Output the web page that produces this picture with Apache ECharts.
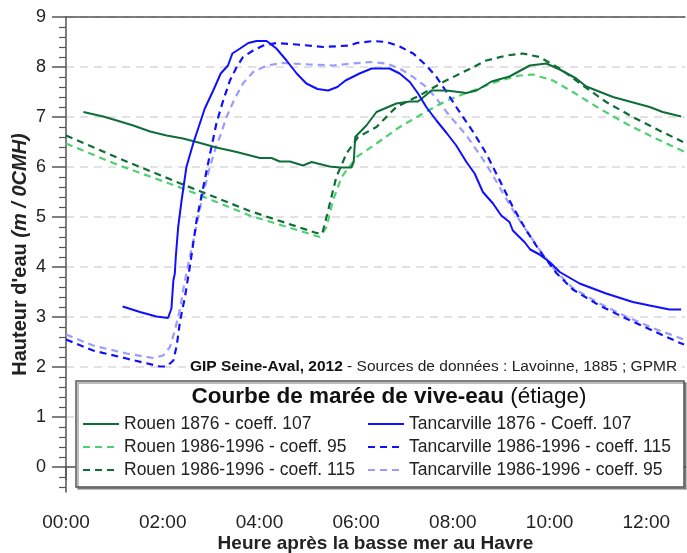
<!DOCTYPE html>
<html>
<head>
<meta charset="utf-8">
<script src="https://cdn.jsdelivr.net/npm/echarts@6/dist/echarts.min.js"></script>
<style>
html,body{margin:0;padding:0;background:#fff;}
#chart{width:687px;height:553px;}
</style>
</head>
<body>
<div id="chart"></div>
<script>
// ---- data: [hours after low tide at Le Havre, water height m / 0CMH] ----
const seriesNames = [
  'Rouen 1876 - coeff. 107',
  'Rouen 1986-1996 - coeff. 95',
  'Rouen 1986-1996 - coeff. 115',
  'Tancarville 1876 - Coeff. 107',
  'Tancarville 1986-1996 - coeff. 115',
  'Tancarville 1986-1996 - coeff. 95'
];
const rouen1876 = [[0.36,7.10],[0.77,7.01],[1.12,6.91],[1.39,6.83],[1.74,6.71],[2.08,6.63],[2.42,6.57],[2.70,6.50],[3.11,6.39],[3.53,6.30],[4.01,6.18],[4.25,6.18],[4.42,6.11],[4.63,6.11],[4.90,6.03],[5.08,6.10],[5.45,6.01],[5.66,5.99],[5.90,5.99],[5.95,6.10],[5.98,6.60],[6.21,6.83],[6.42,7.10],[6.83,7.27],[7.11,7.31],[7.28,7.31],[7.56,7.53],[7.87,7.53],[8.28,7.48],[8.49,7.53],[8.80,7.71],[9.17,7.81],[9.59,8.03],[9.93,8.07],[10.21,7.95],[10.55,7.77],[10.76,7.61],[11.31,7.40],[12.07,7.20],[12.34,7.10],[12.72,7.01]];
const rouen95 = [[0,6.47],[1.05,6.05],[2.42,5.57],[3.80,5.03],[5.25,4.60],[5.39,4.80],[5.52,5.33],[5.70,5.80],[6.01,6.20],[6.42,6.47],[6.90,6.80],[7.38,7.07],[7.87,7.33],[8.42,7.53],[8.97,7.73],[9.38,7.83],[9.66,7.85],[10.07,7.73],[10.48,7.50],[11.03,7.17],[11.58,6.87],[12.13,6.60],[12.80,6.30]];
const rouen115 = [[0,6.63],[1.05,6.19],[2.42,5.65],[3.80,5.12],[5.18,4.68],[5.30,4.67],[5.40,5.05],[5.59,5.80],[5.80,6.27],[6.04,6.60],[6.42,6.80],[6.83,7.20],[7.31,7.43],[7.80,7.70],[8.28,7.93],[8.69,8.13],[9.11,8.23],[9.45,8.27],[9.79,8.20],[10.21,7.97],[10.69,7.63],[11.17,7.30],[11.72,7.00],[12.27,6.73],[12.76,6.50]];
const tanc1876 = [[1.17,3.21],[1.53,3.10],[1.87,3.01],[2.11,2.98],[2.18,3.17],[2.22,3.73],[2.25,3.87],[2.27,4.20],[2.32,4.80],[2.39,5.33],[2.42,5.53],[2.49,6.00],[2.63,6.47],[2.87,7.17],[3.04,7.52],[3.20,7.87],[3.35,8.03],[3.44,8.27],[3.60,8.37],[3.77,8.48],[3.94,8.52],[4.15,8.52],[4.35,8.37],[4.56,8.13],[4.77,7.87],[4.97,7.67],[5.20,7.56],[5.42,7.53],[5.61,7.60],[5.78,7.73],[6.07,7.87],[6.32,7.97],[6.69,7.97],[6.90,7.87],[7.11,7.70],[7.28,7.47],[7.45,7.20],[7.66,6.93],[7.87,6.68],[8.07,6.43],[8.28,6.10],[8.45,5.87],[8.62,5.50],[8.83,5.27],[9.00,5.03],[9.17,4.90],[9.24,4.73],[9.48,4.50],[9.60,4.35],[9.79,4.25],[10.00,4.10],[10.21,3.90],[10.62,3.67],[11.17,3.47],[11.72,3.30],[12.07,3.23],[12.48,3.15],[12.72,3.15]];
const tanc115 = [[0,2.55],[0.56,2.33],[1.25,2.17],[1.94,2.01],[2.08,2.01],[2.22,2.13],[2.29,2.43],[2.36,2.93],[2.46,3.40],[2.56,4.00],[2.70,4.93],[2.84,5.60],[2.98,6.27],[3.11,6.87],[3.25,7.33],[3.39,7.73],[3.53,8.00],[3.66,8.20],[3.87,8.33],[4.08,8.43],[4.35,8.48],[4.77,8.45],[5.32,8.40],[5.87,8.43],[6.01,8.48],[6.35,8.52],[6.63,8.50],[6.90,8.41],[7.18,8.27],[7.45,8.03],[7.66,7.80],[7.87,7.50],[8.07,7.20],[8.28,6.90],[8.42,6.70],[8.69,6.27],[8.97,5.73],[9.24,5.20],[9.52,4.73],[9.79,4.33],[10.14,3.88],[10.48,3.55],[11.03,3.23],[11.58,2.97],[12.13,2.73],[12.65,2.50],[12.78,2.45]];
const tanc95 = [[0,2.65],[0.56,2.43],[1.25,2.27],[1.80,2.18],[2.01,2.23],[2.15,2.40],[2.25,2.73],[2.36,3.17],[2.42,3.53],[2.53,4.07],[2.65,4.60],[2.80,5.30],[2.96,5.95],[3.10,6.40],[3.18,6.60],[3.32,7.00],[3.49,7.37],[3.66,7.67],[3.87,7.90],[4.15,8.03],[4.49,8.08],[5.04,8.05],[5.52,8.03],[5.94,8.07],[6.28,8.10],[6.63,8.07],[6.90,7.97],[7.18,7.80],[7.45,7.60],[7.66,7.37],[7.87,7.10],[8.07,6.87],[8.28,6.63],[8.59,6.20],[8.80,5.88],[9.05,5.45],[9.30,5.05],[9.52,4.73],[9.79,4.35],[10.14,3.90],[10.48,3.58],[11.03,3.27],[11.58,3.01],[12.13,2.78],[12.78,2.55]];
const xTickHours = [0,2,4,6,8,10,12];
const yTickValues = [0,1,2,3,4,5,6,7,8,9];

// ---- chart ----
const FONT = '"Liberation Sans", Arial, Helvetica, sans-serif';
const DARK_GREEN = '#0f6e38', LIGHT_GREEN = '#4fd072', BLUE = '#1010ff', LIGHT_BLUE = '#9c9cff';
const DASH = [7, 5];
function hh(v){ const h = Math.round(v); return (h < 10 ? '0' : '') + h + ':00'; }

function mkSeries(name, data, color, dashed, z) {
  return {
    name: name, type: 'line', data: data, symbol: 'none', z: z,
    lineStyle: { color: color, width: dashed ? 2.2 : 2, type: dashed ? DASH : 'solid' },
    itemStyle: { color: color }
  };
}

const chart = echarts.init(document.getElementById('chart'), null, {renderer: 'canvas'});
const axisGray = '#555';
const legendCommon = {
  orient: 'vertical', top: 415,
  itemWidth: 36, itemHeight: 18, itemGap: 5, padding: 0,
  itemStyle: { opacity: 0, borderWidth: 0 },
  textStyle: { fontSize: 17.5, color: '#222', fontFamily: FONT }
};
chart.setOption({
  animation: false,
  textStyle: { fontFamily: FONT },
  grid: { left: 66, top: 17, width: 619, height: 475, containLabel: false, outerBoundsMode: 'none' },
  xAxis: [{
    type: 'value', min: 0, max: 12.8, interval: 2,
    axisLine: { lineStyle: { color: axisGray, width: 1.5 } },
    axisTick: { length: 13, customValues: xTickHours, lineStyle: { color: axisGray, width: 1.5 } },
    minorTick: { show: true, splitNumber: 2, length: 7, lineStyle: { color: axisGray, width: 1.5 } },
    splitLine: { show: false },
    axisLabel: { fontSize: 19, color: '#222', margin: 21, customValues: xTickHours,
      formatter: function (v) { return (Math.abs(v - Math.round(v)) < 1e-6) ? hh(v) : ''; } },
    name: 'Heure après la basse mer au Havre', nameLocation: 'middle', nameGap: 42, nameMoveOverlap: false,
    nameTextStyle: { fontSize: 19, fontWeight: 'bold', color: '#222', fontFamily: FONT }
  }, {
    type: 'value', position: 'top', min: 0, max: 12.8, interval: 2,
    axisLine: { show: true, onZero: false, lineStyle: { color: axisGray, width: 1.5 } },
    axisTick: { show: false }, axisLabel: { show: false }, splitLine: { show: false }
  }],
  yAxis: {
    type: 'value', min: -0.5, max: 9, splitNumber: 10,
    axisLine: { show: true, lineStyle: { color: axisGray, width: 1.5 } },
    axisTick: { show: true, length: 14, customValues: yTickValues, lineStyle: { color: axisGray, width: 1.5 } },
    minorTick: { show: true, splitNumber: 5, length: 7, lineStyle: { color: axisGray, width: 1.2 } },
    splitLine: { show: true, lineStyle: { color: '#d9d9d9', width: 1.5, type: [8, 6] } },
    axisLabel: { fontSize: 18, color: '#222', margin: 20, customValues: yTickValues,
      formatter: function (v) { return (v >= 0 && Math.abs(v - Math.round(v)) < 1e-6) ? String(Math.round(v)) : ''; } },
    name: "{b|Hauteur d'eau }{bi|(m / 0CMH)}", nameLocation: 'middle', nameRotate: 90, nameGap: 36, nameMoveOverlap: false,
    nameTextStyle: { rich: {
      b: { fontSize: 20, fontWeight: 'bold', color: '#222', fontFamily: FONT },
      bi: { fontSize: 20, fontWeight: 'bold', fontStyle: 'italic', color: '#222', fontFamily: FONT }
    } }
  },
  legend: [
    Object.assign({ data: seriesNames.slice(0, 3), left: 82 }, legendCommon),
    Object.assign({ data: seriesNames.slice(3), left: 367 }, legendCommon)
  ],
  graphic: [{
    type: 'rect', z: 3,
    shape: { x: 76, y: 381, width: 608, height: 106 },
    style: { fill: '#fff', stroke: '#555', lineWidth: 1.5, shadowColor: 'rgba(0,0,0,0.35)', shadowOffsetX: 2, shadowOffsetY: 2, shadowBlur: 0 }
  }, {
    type: 'text', z: 5,
    style: {
      x: 389, y: 397, align: 'center', verticalAlign: 'middle',
      text: '{b|Courbe de marée de vive-eau}{n| (étiage)}',
      rich: {
        b: { fontSize: 22.5, fontWeight: 'bold', fill: '#111', fontFamily: FONT },
        n: { fontSize: 22.5, fill: '#111', fontFamily: FONT }
      }
    }
  }, {
    type: 'text', z: 5,
    style: {
      x: 186, y: 367, align: 'left', verticalAlign: 'middle',
      backgroundColor: '#fff', padding: [1, 4],
      text: '{b|GIP Seine-Aval, 2012}{n| - Sources de données : Lavoinne, 1885 ; GPMR}',
      rich: {
        b: { fontSize: 15.5, fontWeight: 'bold', fill: '#111', fontFamily: FONT },
        n: { fontSize: 15.5, fill: '#222', fontFamily: FONT }
      }
    }
  }],
  series: [
    mkSeries(seriesNames[0], rouen1876, DARK_GREEN, false, 3),
    mkSeries(seriesNames[1], rouen95, LIGHT_GREEN, true, 2),
    mkSeries(seriesNames[2], rouen115, DARK_GREEN, true, 2),
    mkSeries(seriesNames[3], tanc1876, BLUE, false, 3),
    mkSeries(seriesNames[4], tanc115, BLUE, true, 2),
    mkSeries(seriesNames[5], tanc95, LIGHT_BLUE, true, 1)
  ]
});
</script>
</body>
</html>
